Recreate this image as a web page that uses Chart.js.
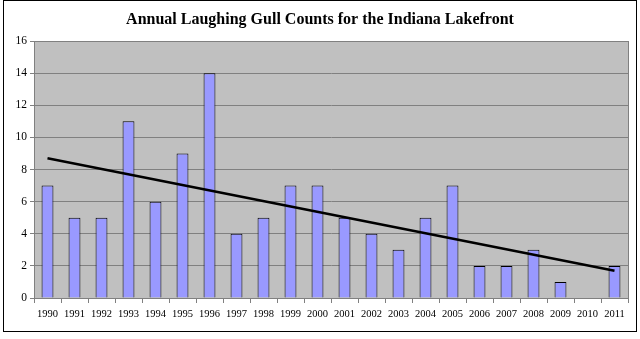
<!DOCTYPE html>
<html>
<head>
<meta charset="utf-8">
<script src="https://cdn.jsdelivr.net/npm/chart.js"></script>
<style>
  body{margin:0;background:#fff;}
  #wrap{position:relative;width:640px;height:339px;}
</style>
</head>
<body>
<div id="wrap"><canvas id="gullChart" width="640" height="339"></canvas></div>
<script>
// Data
const years = ["1990","1991","1992","1993","1994","1995","1996","1997","1998","1999","2000",
               "2001","2002","2003","2004","2005","2006","2007","2008","2009","2010","2011"];
const counts = [7,5,5,11,6,9,14,4,5,7,7,5,4,3,5,7,2,2,3,1,0,2];
const trendEnds = [8.7, 1.7]; // trend line at first and last year
const yTicks = [0,2,4,6,8,10,12,14,16];

const titleText = "Annual Laughing Gull Counts for the Indiana Lakefront";

// trend line only has its two ends, gap spanned
const trendData = years.map((_,i)=> i==0 ? trendEnds[0] : (i==years.length-1 ? trendEnds[1] : null));

// grey plot background, outer frame and title
const frame = {
  id:"frame",
  beforeDraw(chart){
    const c = chart.ctx, a = chart.chartArea;
    c.save();
    c.fillStyle="#fff";
    c.fillRect(0,0,chart.width,chart.height);
    c.fillStyle="#c0c0c0";
    c.fillRect(a.left,a.top,a.right-a.left,a.bottom-a.top);
    c.restore();
  },
  afterDraw(chart){
    const c = chart.ctx, a = chart.chartArea;
    c.save();
    c.strokeStyle="#808080";
    c.lineWidth=1;
    c.strokeRect(a.left+0.5,a.top+0.5,a.right-a.left,a.bottom-a.top);
    c.strokeStyle="#000";
    c.strokeRect(3.5,0.5,633,331);
    c.fillStyle="#000";
    c.font="bold 16px 'Liberation Serif', serif";
    c.textAlign="center";
    c.textBaseline="middle";
    c.fillText(titleText,320,20);
    c.restore();
  }
};

const ctx = document.getElementById("gullChart").getContext("2d");
new Chart(ctx,{
  data:{
    labels: years,
    datasets:[
      {
        type:"line",
        data: trendData,
        borderColor:"#000",
        borderWidth:2.5,
        pointRadius:0,
        spanGaps:true,
        fill:false,
        order:0
      },
      {
        type:"bar",
        data: counts,
        backgroundColor:"#9999ff",
        borderColor:"#000",
        borderWidth:1,
        barPercentage:0.44,
        categoryPercentage:1,
        order:1
      }
    ]
  },
  options:{
    responsive:false,
    animation:false,
    layout:{padding:{left:0,top:41,right:12,bottom:7}},
    plugins:{legend:{display:false},title:{display:false},tooltip:{enabled:false}},
    scales:{
      x:{
        offset:true,
        grid:{offset:true,drawOnChartArea:false,drawTicks:true,tickLength:5,color:"#808080"},
        border:{color:"#808080"},
        ticks:{color:"#000",font:{family:"'Liberation Serif', serif",size:10.5},maxRotation:0,autoSkip:false,padding:5},
        afterFit(s){ s.height = 34; }
      },
      y:{
        min:0,max:16,
        afterBuildTicks(s){ s.ticks = yTicks.map(v=>({value:v})); },
        grid:{color:"#808080",drawTicks:true,tickLength:4},
        border:{color:"#808080"},
        ticks:{color:"#000",font:{family:"'Liberation Serif', serif",size:11.5},padding:3},
        afterFit(s){ s.width = 34; }
      }
    }
  },
  plugins:[frame]
});
</script>
</body>
</html>
